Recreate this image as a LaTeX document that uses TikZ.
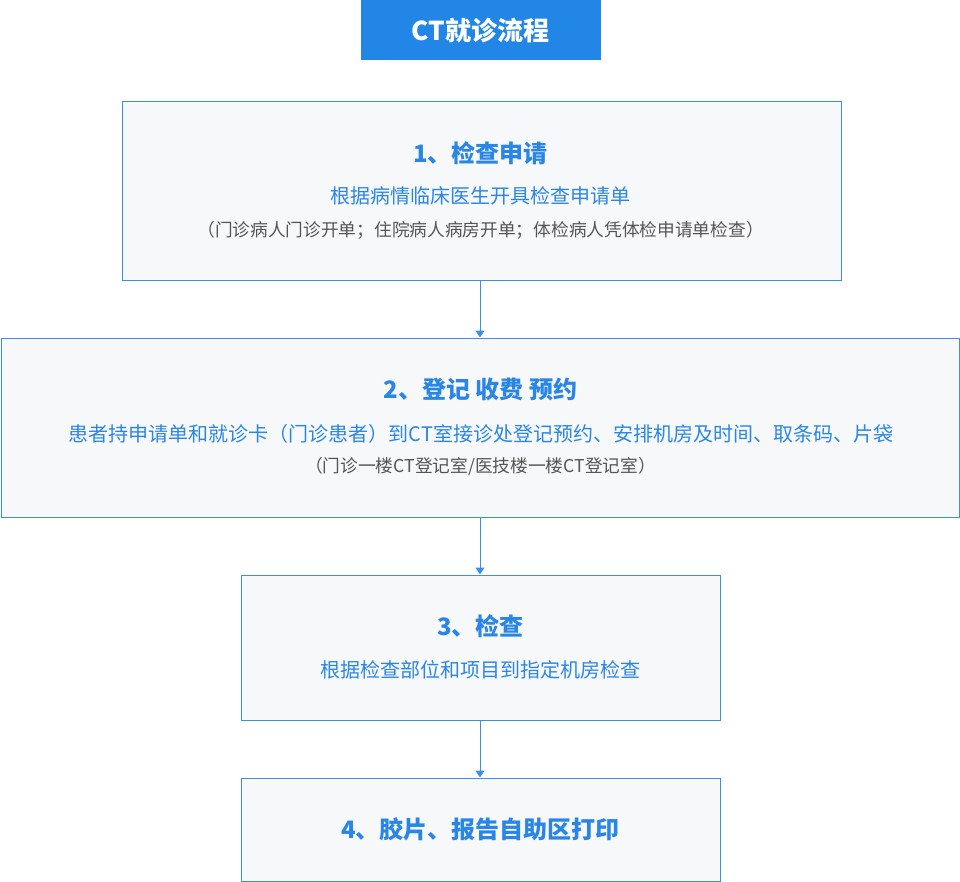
\documentclass[tikz,border=0pt]{standalone}
\usepackage{fontspec}
\setmainfont{Noto Sans CJK SC}
\usetikzlibrary{arrows.meta}
\definecolor{hdrblue}{HTML}{2186E6}
\definecolor{txtblue}{HTML}{2A86E6}
\definecolor{edgeblue}{HTML}{3B8FE8}
\definecolor{boxfill}{HTML}{F7F8FA}
\definecolor{subgray}{HTML}{555555}
\tikzset{
  stagebox/.style={draw=edgeblue, line width=1pt, fill=boxfill, inner sep=0pt, anchor=north west},
  headtext/.style={text=txtblue, font=\fontsize{24}{29}\selectfont\bfseries, inner sep=0pt},
  maintext/.style={text=txtblue, font=\fontsize{20}{24}\selectfont, inner sep=0pt},
  notetext/.style={text=subgray, font=\fontsize{17.7}{21}\selectfont, inner sep=0pt},
  flowarrow/.style={draw=edgeblue, line width=1pt, -{Triangle[width=9pt,length=7pt]}}
}
\begin{document}
\begin{tikzpicture}[x=1pt,y=-1pt]
\useasboundingbox (0,0) rectangle (960,881);
% title
\node[fill=hdrblue, minimum width=240pt, minimum height=60pt, inner sep=0pt, anchor=north west] (hdr) at (361,0) {};
\node[text=white, font=\fontsize{26}{31}\selectfont\bfseries, inner sep=0pt] (hdrt) at (480.5,31) {CT就诊流程};
% box 1
\node[stagebox, minimum width=719pt, minimum height=179pt] (b1) at (121.5,100.5) {};
\node[headtext] (b1h) at (480.5,153) {1、检查申请};
\node[maintext] (b1m) at (480.5,196) {根据病情临床医生开具检查申请单};
\node[notetext] (b1n) at (480.5,230) {（门诊病人门诊开单；住院病人病房开单；体检病人凭体检申请单检查）};
% box 2
\node[stagebox, minimum width=958pt, minimum height=179pt] (b2) at (0.5,337.5) {};
\node[headtext] (b2h) at (480.5,389) {2、登记 收费 预约};
\node[maintext] (b2m) at (481,434) {患者持申请单和就诊卡（门诊患者）到CT室接诊处登记预约、安排机房及时间、取条码、片袋};
\node[notetext] (b2n) at (480.5,467) {（门诊一楼CT登记室/医技楼一楼CT登记室）};
% box 3
\node[stagebox, minimum width=479pt, minimum height=145pt] (b3) at (240.5,574.5) {};
\node[headtext] (b3h) at (480.5,626) {3、检查};
\node[maintext] (b3m) at (480.5,670) {根据检查部位和项目到指定机房检查};
% box 4
\node[stagebox, minimum width=479pt, minimum height=103pt] (b4) at (240.5,777.5) {};
\node[headtext] (b4h) at (480.5,829) {4、胶片、报告自助区打印};
% arrows
\draw[flowarrow] (b2.north |- b1.south) -- (b2.north);
\draw[flowarrow] (b2.south) -- (b2.south |- b3.north);
\draw[flowarrow] (b2.south |- b3.south) -- (b2.south |- b4.north);
\end{tikzpicture}
\end{document}
